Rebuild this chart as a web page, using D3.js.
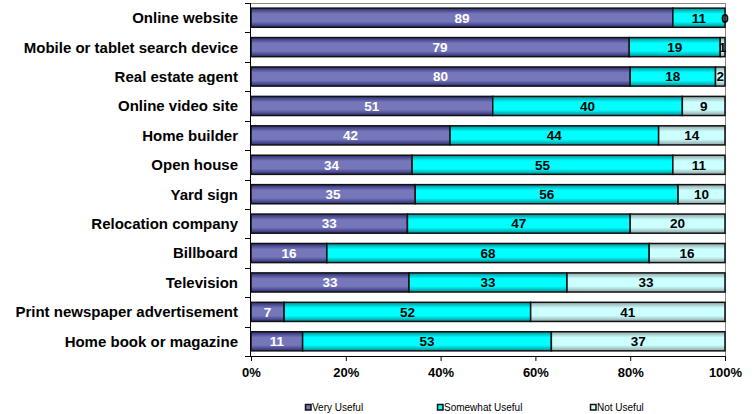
<!DOCTYPE html>
<html>
<head>
<meta charset="utf-8">
<script src="https://cdn.jsdelivr.net/npm/d3@7"></script>
<style>
  html, body { margin: 0; padding: 0; background: #fff; }
  svg { display: block; font-family: "Liberation Sans", Arial, sans-serif; }
</style>
</head>
<body>
<svg id="chart" width="755" height="414"></svg>
<script>
// Survey categories, top to bottom
const categories = [
  "Online website",
  "Mobile or tablet search device",
  "Real estate agent",
  "Online video site",
  "Home builder",
  "Open house",
  "Yard sign",
  "Relocation company",
  "Billboard",
  "Television",
  "Print newspaper advertisement",
  "Home book or magazine"
];

const seriesNames = ["Very Useful", "Somewhat Useful", "Not Useful"];

const veryUseful     = [89, 79, 80, 51, 42, 34, 35, 33, 16, 33, 7, 11];
const somewhatUseful = [11, 19, 18, 40, 44, 55, 56, 47, 68, 33, 52, 53];
const notUseful      = [0, 1, 2, 9, 14, 11, 10, 20, 16, 33, 41, 37];

const xTicks = [0, 0.2, 0.4, 0.6, 0.8, 1.0];

const svg = d3.select("#chart");
const plotL = 251, plotR = 725, plotT = 3, plotB = 356;

// Build rows and normalise each to a 100% stack
const rows = categories.map((c, i) => {
  const vals = [veryUseful[i], somewhatUseful[i], notUseful[i]];
  const total = d3.sum(vals);
  let acc = 0;
  const segs = vals.map((v, k) => {
    const s = { key: k, value: v, x0: acc / total, x1: (acc + v) / total };
    acc += v;
    return s;
  });
  return { cat: c, segs };
});

const x = d3.scaleLinear().domain([0, 1]).range([plotL, plotR]);
const y = d3.scaleBand().domain(categories).range([plotT, plotB]).paddingInner(0.35).paddingOuter(0.175);

// Vertical shading gradients for each series
const grads = [
  { id: "g0", edge: "#2c2c74", mid: "#7676ba" },
  { id: "g1", edge: "#008f96", mid: "#00ffff" },
  { id: "g2", edge: "#8fa3a3", mid: "#ccffff" }
];
const defs = svg.append("defs");
grads.forEach(g => {
  const lg = defs.append("linearGradient").attr("id", g.id)
    .attr("x1", 0).attr("y1", 0).attr("x2", 0).attr("y2", 1);
  lg.append("stop").attr("offset", "0").attr("stop-color", g.edge);
  lg.append("stop").attr("offset", "0.3").attr("stop-color", g.mid);
  lg.append("stop").attr("offset", "0.7").attr("stop-color", g.mid);
  lg.append("stop").attr("offset", "1").attr("stop-color", g.edge);
});

// Plot frame (top and right edges)
svg.append("line").attr("x1", plotL).attr("x2", plotR).attr("y1", plotT + 0.5).attr("y2", plotT + 0.5)
  .attr("stroke", "#888").attr("stroke-width", 1);
svg.append("line").attr("x1", plotR + 0.5).attr("x2", plotR + 0.5).attr("y1", plotT).attr("y2", plotB)
  .attr("stroke", "#888").attr("stroke-width", 1);

// Bars
const rowG = svg.append("g").selectAll("g").data(rows).join("g")
  .attr("transform", d => `translate(0,${y(d.cat)})`);

rowG.selectAll("rect").data(d => d.segs).join("rect")
  .attr("x", d => x(d.x0))
  .attr("y", 0)
  .attr("width", d => Math.max(0, x(d.x1) - x(d.x0)))
  .attr("height", y.bandwidth())
  .attr("fill", d => `url(#${grads[d.key].id})`)
  .attr("stroke", "#111")
  .attr("stroke-width", 1.5);

rowG.selectAll("text").data(d => d.segs).join("text")
  .attr("x", d => (x(d.x0) + x(d.x1)) / 2)
  .attr("y", y.bandwidth() / 2)
  .attr("dy", "0.36em")
  .attr("text-anchor", "middle")
  .attr("font-size", 13.5)
  .attr("font-weight", "bold")
  .attr("fill", d => d.key === 0 ? "#fff" : "#000")
  .text(d => d.value);

// Left axis with ticks between categories
const yAxisG = svg.append("g");
yAxisG.append("line").attr("x1", plotL - 0.5).attr("x2", plotL - 0.5).attr("y1", plotT).attr("y2", plotB + 0.5)
  .attr("stroke", "#000");
const step = y.step();
d3.range(categories.length + 1).forEach(k => {
  const yy = Math.round(plotT + k * step) + 0.5;
  yAxisG.append("line").attr("x1", plotL - 6).attr("x2", plotL).attr("y1", yy).attr("y2", yy).attr("stroke", "#000");
});
yAxisG.selectAll("text").data(categories).join("text")
  .attr("x", 238)
  .attr("y", d => y(d) + y.bandwidth() / 2)
  .attr("dy", "0.36em")
  .attr("text-anchor", "end")
  .attr("font-size", 15)
  .attr("font-weight", "bold")
  .attr("fill", "#000")
  .text(d => d);

// Bottom axis
const xAxis = d3.axisBottom(x).tickValues(xTicks).tickFormat(d3.format(".0%")).tickSizeInner(5).tickSizeOuter(0).tickPadding(7);
const xg = svg.append("g").attr("transform", `translate(0,${plotB})`).call(xAxis);
xg.select(".domain").attr("stroke", "#000");
xg.selectAll(".tick line").attr("stroke", "#000");
xg.selectAll("text").attr("font-size", 13).attr("font-weight", "bold").attr("fill", "#000")
  .attr("font-family", "'Liberation Sans', Arial, sans-serif");

// Legend
const legendX = [305, 437, 590];
const legend = svg.append("g").selectAll("g").data(seriesNames).join("g")
  .attr("transform", (d, i) => `translate(${legendX[i]},404)`);
legend.append("rect").attr("x", 0.5).attr("y", 0.5).attr("width", 5.5).attr("height", 5.5)
  .attr("fill", (d, i) => grads[i].mid).attr("stroke", "#111").attr("stroke-width", 1.5);
legend.append("text").attr("x", 7).attr("y", 3.3).attr("dy", "0.35em")
  .attr("font-size", 10).attr("fill", "#000").text(d => d);
</script>
</body>
</html>
